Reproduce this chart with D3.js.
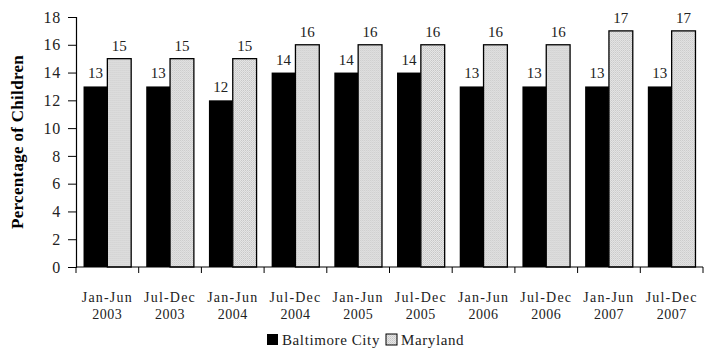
<!DOCTYPE html>
<html><head><meta charset="utf-8">
<script src="https://cdn.jsdelivr.net/npm/d3@7"></script>
<style>body{margin:0;background:#fff}svg{display:block}text{font-family:"Liberation Serif","Times New Roman",serif}</style>
</head><body><svg id="c" width="707" height="351"></svg>
<script>
const periods = ["Jan-Jun","Jul-Dec","Jan-Jun","Jul-Dec","Jan-Jun","Jul-Dec","Jan-Jun","Jul-Dec","Jan-Jun","Jul-Dec"];
const years = ["2003","2003","2004","2004","2005","2005","2006","2006","2007","2007"];
const seriesNames = ["Baltimore City","Maryland"];
const baltimore = [13,13,12,14,14,14,13,13,13,13];
const maryland = [15,15,15,16,16,16,16,16,17,17];
const yTicks = [0,2,4,6,8,10,12,14,16,18];

const svg = d3.select("#c");
const defs = svg.append("defs");
const pat = defs.append("pattern").attr("id","stip").attr("patternUnits","userSpaceOnUse").attr("width",2).attr("height",2);
pat.append("rect").attr("width",2).attr("height",2).attr("fill","#e6e6e6");
pat.append("rect").attr("width",1).attr("height",1).attr("fill","#c6c6c6");
pat.append("rect").attr("x",1).attr("y",1).attr("width",1).attr("height",1).attr("fill","#d2d2d2");

const L=76, R=703, T=17, B=267;
const idx = d3.range(periods.length);
const x0 = d3.scaleBand().domain(idx).range([L,R]).paddingInner(0.24).paddingOuter(0.12);
const x1 = d3.scaleBand().domain([0,1]).range([0,x0.bandwidth()]);
const y = d3.scaleLinear().domain([0,18]).range([B,T]);
const fills = ["#000","url(#stip)"];
const data = [baltimore, maryland];

// y axis
const yAxis = d3.axisLeft(y).tickValues(yTicks).tickSize(8).tickPadding(7);
const gy = svg.append("g").attr("transform",`translate(${L},0)`).call(yAxis);
gy.attr("font-family",null);
gy.select(".domain").attr("stroke","#000").attr("stroke-width",1.2);
gy.selectAll("line").attr("stroke","#000");
gy.selectAll("text").attr("font-size",16).attr("fill","#222").attr("letter-spacing",0.8);

// bars
const groups = svg.append("g").selectAll("g").data(idx).join("g").attr("transform",i=>`translate(${x0(i)},0)`);
groups.selectAll("rect").data(i=>data.map((s,k)=>({k,v:s[i]}))).join("rect")
  .attr("x",d=>x1(d.k)).attr("y",d=>y(d.v)).attr("width",x1.bandwidth()).attr("height",d=>B-y(d.v))
  .attr("fill",d=>fills[d.k]).attr("stroke","#000").attr("stroke-width",d=>d.k?1.3:0);
groups.selectAll("text").data(i=>data.map((s,k)=>({k,v:s[i]}))).join("text")
  .attr("x",d=>x1(d.k)+x1.bandwidth()/2).attr("y",d=>y(d.v)-8).attr("text-anchor","middle")
  .attr("font-size",15).attr("fill","#222").text(d=>d.v);

// x axis
const step = x0.step();
svg.append("line").attr("x1",L).attr("x2",R).attr("y1",B).attr("y2",B).attr("stroke","#000").attr("stroke-width",1.2);
const bounds = d3.range(periods.length+1).map(i=>L+i*step);
svg.append("g").selectAll("line").data(bounds).join("line")
  .attr("x1",d=>d).attr("x2",d=>d).attr("y1",B).attr("y2",B+6).attr("stroke","#000");
const xl = svg.append("g");
xl.selectAll("text.p").data(idx).join("text").attr("class","p")
  .attr("x",i=>x0(i)+x0.bandwidth()/2).attr("y",302).attr("text-anchor","middle")
  .attr("font-size",14).attr("letter-spacing",1.2).attr("fill","#222").text(i=>periods[i]);
xl.selectAll("text.yr").data(idx).join("text").attr("class","yr")
  .attr("x",i=>x0(i)+x0.bandwidth()/2).attr("y",319).attr("text-anchor","middle")
  .attr("font-size",14).attr("letter-spacing",0.5).attr("fill","#222").text(i=>years[i]);

// y title
svg.append("text").attr("transform",`translate(23,${(T+B)/2}) rotate(-90)`).attr("text-anchor","middle")
  .attr("font-size",17).attr("font-weight","bold").attr("letter-spacing",0.3).text("Percentage of Children");

// legend
const leg = svg.append("g");
const legX = [267,386];
seriesNames.forEach((n,k)=>{
  leg.append("rect").attr("x",legX[k]).attr("y",334).attr("width",11).attr("height",11)
    .attr("fill",fills[k]).attr("stroke","#000").attr("stroke-width",k?1:0);
  leg.append("text").attr("x",legX[k]+15).attr("y",345).attr("font-size",15).attr("letter-spacing",0.6).attr("fill","#222").text(n);
});
</script></body></html>
